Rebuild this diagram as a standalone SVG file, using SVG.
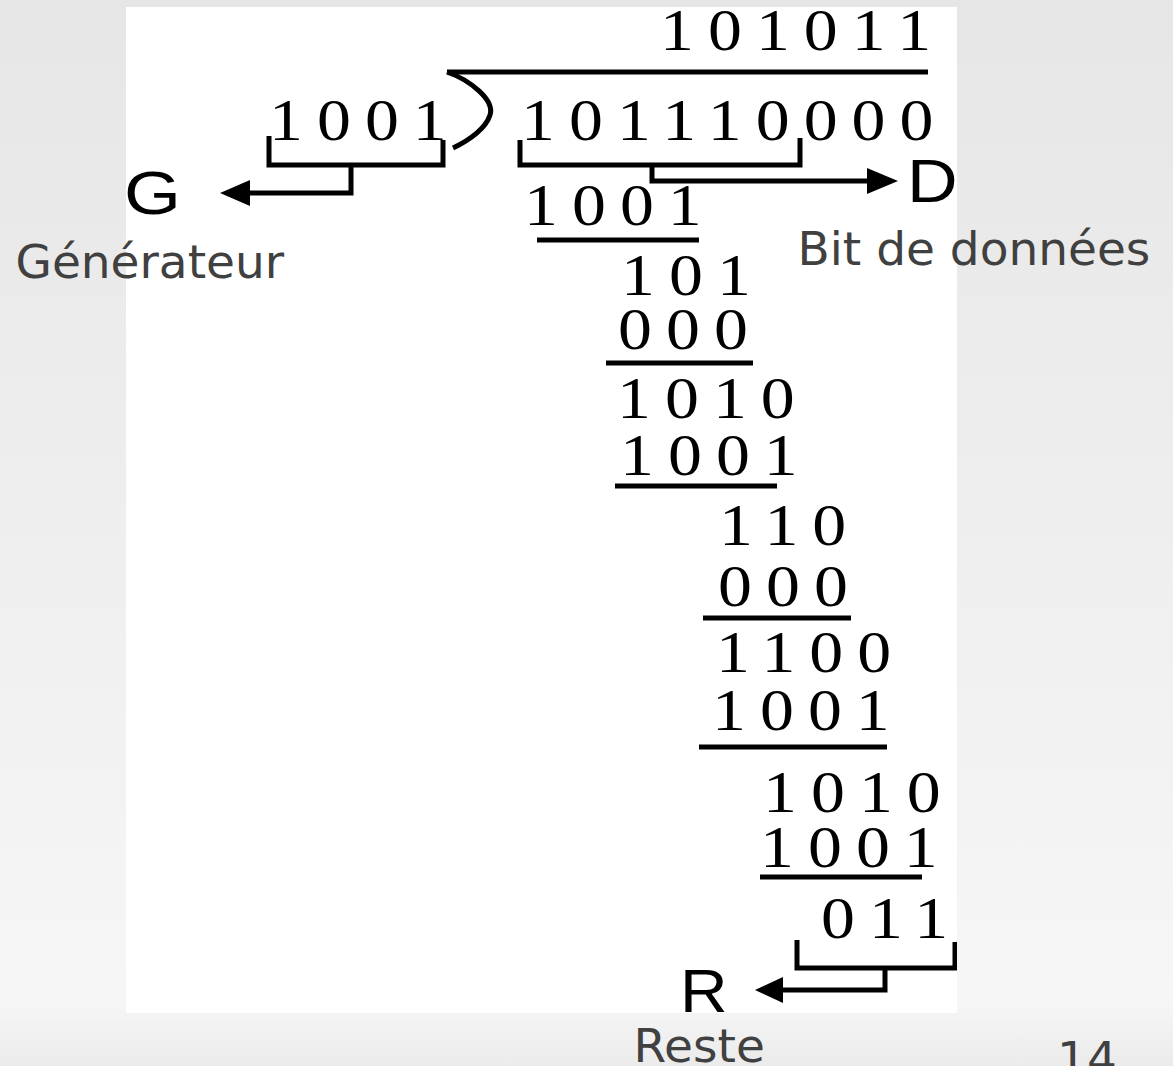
<svg xmlns="http://www.w3.org/2000/svg" width="1173" height="1066" viewBox="0 0 1173 1066">
<defs>
<linearGradient id="bg" x1="0" y1="0" x2="0" y2="1">
<stop offset="0" stop-color="#e6e6e6"/>
<stop offset="0.94" stop-color="#f6f6f6"/>
<stop offset="1" stop-color="#ebebeb"/>
</linearGradient>
<clipPath id="imgclip"><rect x="126" y="7" width="831" height="1006"/></clipPath>
<style>
.d{font-family:"Liberation Serif","Times New Roman",serif;font-size:59px;letter-spacing:12.2px;fill:#000}
.big{font-family:"Liberation Sans",Arial,sans-serif;font-size:61px;fill:#000}
.lbl{font-family:"DejaVu Sans",sans-serif;font-size:47px;fill:#404040}
.ln{stroke:#000;stroke-width:5;fill:none}
.ah{fill:#000}
</style>
</defs>
<rect width="1173" height="1066" fill="url(#bg)"/>
<rect x="126" y="7" width="831" height="1006" fill="#fff"/>
<g clip-path="url(#imgclip)">
<g id="connectors">
<path class="ln" d="M447,72 L928,72"/>
<path class="ln" d="M447,72 C470,80 495,100 490,115 C486,128 470,140 453,148"/>
<path class="ln" d="M269,136 L269,165 L443,165 L443,140"/>
<path class="ln" d="M351,165 L351,193 L248,193"/>
<polygon class="ah" points="220,193 250,180 250,206"/>
<path class="ln" d="M520,140 L520,165 L800,165 L800,138"/>
<path class="ln" d="M652,165 L652,181 L869,181"/>
<polygon class="ah" points="898,181 867,168 867,194"/>
<path class="ln" d="M537,240 L699,240"/>
<path class="ln" d="M606,363 L753,363"/>
<path class="ln" d="M615,486 L777,486" stroke-width="6"/>
<path class="ln" d="M703,618 L851,618"/>
<path class="ln" d="M699,747 L887,747" stroke-width="6"/>
<path class="ln" d="M760,877 L922,877"/>
<path class="ln" d="M797,940 L797,968 L955,968 L955,942"/>
<path class="ln" d="M885,968 L885,990 L781,990"/>
<polygon class="ah" points="755,990 783,977 783,1003"/>
</g>
<g id="quotient"><text class="d" transform="translate(660,50) scale(1.15,1)">101011</text></g>
<g id="divisor"><text class="d" transform="translate(269,140) scale(1.15,1)">1001</text></g>
<g id="dividend"><text class="d" transform="translate(521,140) scale(1.15,1)">101110000</text></g>
<g id="step1"><text class="d" transform="translate(524,225) scale(1.15,1)">1001</text></g>
<g id="step2"><text class="d" transform="translate(621,295) scale(1.15,1)">101</text><text class="d" transform="translate(618,349) scale(1.15,1)">000</text></g>
<g id="step3"><text class="d" transform="translate(617,418) scale(1.15,1)">1010</text><text class="d" transform="translate(620,475) scale(1.15,1)">1001</text></g>
<g id="step4"><text class="d" transform="translate(719,545) scale(1.15,1)">110</text><text class="d" transform="translate(718,606) scale(1.15,1)">000</text></g>
<g id="step5"><text class="d" transform="translate(716,672) scale(1.15,1)">1100</text><text class="d" transform="translate(712,730) scale(1.15,1)">1001</text></g>
<g id="step6"><text class="d" transform="translate(763,812) scale(1.15,1)">1010</text><text class="d" transform="translate(760,867) scale(1.15,1)">1001</text></g>
<g id="remainder"><text class="d" transform="translate(821,938) scale(1.15,1)">011</text></g>
<g id="node-G"><text class="big" transform="translate(124,214) scale(1.2,1)">G</text></g>
<g id="node-D"><text class="big" transform="translate(907,202) scale(1.15,1)">D</text></g>
<g id="node-R"><text class="big" font-size="59" transform="translate(680,1012) scale(1.08,1)">R</text></g>
</g>
<g id="labels">
<text class="lbl" x="15.5" y="278">Générateur</text>
<text class="lbl" x="797.5" y="265">Bit de données</text>
<text class="lbl" x="633.5" y="1062">Reste</text>
<text class="lbl" x="1057" y="1075" font-size="30" fill="#505050">14</text>
</g>
</svg>
